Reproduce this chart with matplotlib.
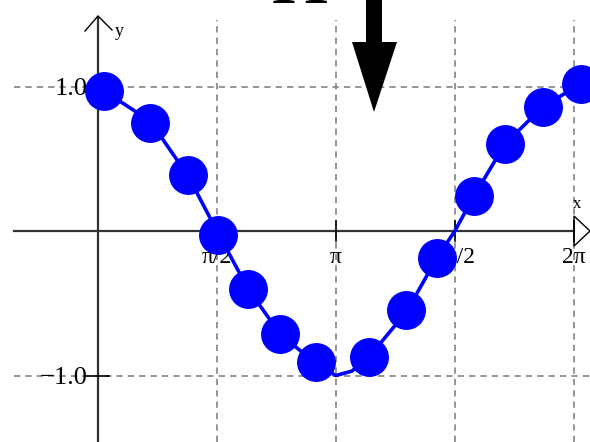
import numpy as np
import matplotlib
matplotlib.use("Agg")
import matplotlib.pyplot as plt
from matplotlib.patches import Polygon

# sampled points (x in radians, y value)
dot_x = [0.08, 0.69, 1.19, 1.58, 1.98, 2.40, 2.88, 3.58, 4.07, 4.47, 4.96, 5.37, 5.87, 6.38]
dot_y = [0.97, 0.75, 0.39, -0.03, -0.40, -0.71, -0.91, -0.87, -0.55, -0.19, 0.24, 0.60, 0.86, 1.02]

# the blue curve
line_x = [0.08, 0.69, 1.19, 1.57, 1.98, 2.40, 2.88, 3.14, 3.35, 3.58, 4.07, 4.47, 4.71, 4.96, 5.37, 5.87, 6.38]
line_y = [0.97, 0.76, 0.38, 0.0, -0.40, -0.71, -0.92, -1.0, -0.97, -0.87, -0.56, -0.19, 0.0, 0.24, 0.60, 0.86, 1.02]

xticks = [np.pi / 2, np.pi, 3 * np.pi / 2, 2 * np.pi]
xtick_labels = ["π/2", "π", "3π/2", "2π"]
yticks = [1.0, -1.0]
ytick_labels = ["1.0", "−1.0"]

W, H = 590, 442
X0, Y0 = 98, 231          # pixel of the origin
SX, SY = 119 / (np.pi / 2), 144.5   # pixels per unit

fig = plt.figure(figsize=(W / 100, H / 100), dpi=100)
ax = fig.add_axes([0, 0, 1, 1])
ax.set_xlim(-X0 / SX, (W - X0) / SX)
ax.set_ylim(-(H - Y0) / SY, Y0 / SY)
ax.axis("off")

def px(x, y):
    # pixel position -> data coords
    return (x - X0) / SX, (Y0 - y) / SY

serif = ["Liberation Serif", "DejaVu Serif"]
grid_kw = dict(color="#8c8c8c", lw=1.3, dashes=(3.5, 2.8), zorder=1)

# dashed grid
left, _ = px(14, 0)
_, top = px(0, 20)
for yv in yticks:
    ax.plot([left, ax.get_xlim()[1]], [yv, yv], **grid_kw)
for xv in xticks:
    ax.plot([xv, xv], [ax.get_ylim()[0], top], **grid_kw)

# axes
axc = "#333333"
ax.plot([left, px(574, 0)[0]], [0, 0], color=axc, lw=1.6, zorder=2)
ax.plot([0, 0], [ax.get_ylim()[0], px(0, 17)[1]], color=axc, lw=1.6, zorder=2)
tri = [px(574, 216), px(590, 231), px(574, 246)]
ax.add_patch(Polygon(tri, closed=True, fill=False, ec="black", lw=1.0, zorder=2))
chev = [px(85, 31), px(98, 16), px(112, 30)]
ax.plot([p[0] for p in chev], [p[1] for p in chev], color="black", lw=1.0, zorder=2)
ax.text(*px(119, 31), "y", family=serif, fontsize=13, ha="center", va="center")
ax.text(*px(577, 204), "x", family=serif, fontsize=12, ha="center", va="center")

# ticks and labels
th = 10 / SY
for xv, lab in zip(xticks, xtick_labels):
    ax.plot([xv, xv], [-th, th], color="black", lw=1.2, zorder=2)
    ax.text(xv, px(0, 247)[1], lab, family=serif, fontsize=17,
            ha="center", va="top", zorder=2)
tw = 11 / SX
for yv, lab in zip(yticks, ytick_labels):
    ax.plot([-tw, tw], [yv, yv], color="black", lw=1.2, zorder=2)
    ax.text(px(88, 0)[0], yv - 0.02, lab, family=serif, fontsize=19,
            ha="right", va="center", zorder=2)

# curve and points
ax.plot(line_x, line_y, color="#0000ff", lw=2.6, zorder=3)
ax.plot(dot_x, dot_y, "o", color="#0000ff", ms=27, mec="#0000ff", zorder=4)

# big title letter cut off at the top, and the arrow
ax.text(*px(300, 3), "H", family=serif, fontsize=58, ha="center",
        va="baseline", color="black", zorder=5)
arrow = [px(366, -5), px(382, -5), px(382, 42), px(397, 42),
         px(374, 112), px(352, 42), px(366, 42)]
ax.add_patch(Polygon(arrow, closed=True, fc="black", ec="none", zorder=5))

fig.savefig("out.png", dpi=100)
